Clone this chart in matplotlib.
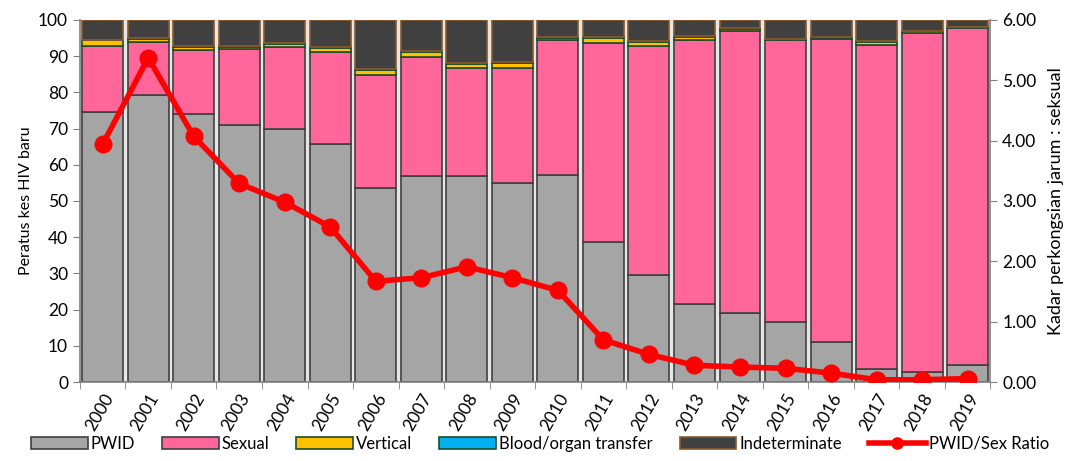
import matplotlib.pyplot as plt
import numpy as np
from matplotlib.lines import Line2D

plt.rcParams['font.family'] = ['Lato', 'DejaVu Sans']

years = [str(y) for y in range(2000, 2020)]
pwid = [74.5, 79.3, 74.0, 71.0, 69.8, 65.8, 53.6, 57.0, 57.0, 55.0,
        57.3, 38.6, 29.6, 21.5, 19.2, 16.7, 11.1, 3.5, 2.8, 4.7]
sexual = [18.3, 14.7, 17.7, 21.0, 22.7, 25.2, 31.3, 32.7, 29.6, 31.6,
          37.0, 54.9, 63.3, 73.0, 77.6, 77.6, 83.7, 89.6, 93.5, 93.0]
vertical = [1.5, 0.8, 0.8, 0.5, 0.8, 1.2, 1.2, 1.5, 1.2, 1.5,
            0.8, 1.5, 1.0, 0.8, 0.8, 0.3, 0.3, 0.8, 0.5, 0.3]
blood = [0.2, 0.1, 0.2, 0.2, 0.2, 0.2, 0.2, 0.2, 0.2, 0.2,
         0.2, 0.2, 0.2, 0.2, 0.2, 0.1, 0.1, 0.2, 0.1, 0.1]
indeterminate = list(100 - np.array(pwid) - np.array(sexual)
                     - np.array(vertical) - np.array(blood))
ratio = [3.94, 5.37, 4.07, 3.29, 2.98, 2.57, 1.67, 1.73, 1.91, 1.73,
         1.52, 0.70, 0.46, 0.28, 0.25, 0.23, 0.15, 0.04, 0.04, 0.06]

x = np.arange(len(years))

fig = plt.figure(figsize=(10.8, 4.61), dpi=100)
ax = fig.add_axes([0.074, 0.171, 0.843, 0.786])
ax.set_facecolor('white')

series = [
    ('PWID', pwid, '#a5a5a5', '#404040'),
    ('Sexual', sexual, '#ff6699', '#404040'),
    ('Vertical', vertical, '#ffc000', '#1e4d2b'),
    ('Blood/organ transfer', blood, '#00b0f0', '#1e4d2b'),
    ('Indeterminate', indeterminate, '#404040', '#8c5a2a'),
]
bottom = np.zeros(len(years))
handles = []
for name, vals, fc, ec in series:
    # pale strip between neighbouring bars
    ax.bar(x, vals, bottom=bottom, width=1.0, color='#e6e6e6',
           edgecolor='none', zorder=1)
    h = ax.bar(x, vals, bottom=bottom, width=0.9, color=fc,
               edgecolor=ec, linewidth=1.2, label=name, zorder=2)
    handles.append(h)
    bottom += np.array(vals)

ax.set_xlim(-0.5, len(years) - 0.5)
ax.set_ylim(0, 100)
ax.set_yticks(range(0, 101, 10))
ax.set_ylabel('Peratus kes HIV baru', fontsize=11.5)
ax.set_xticks(x)
ax.set_xticklabels(years, rotation=60, ha='right', rotation_mode='anchor',
                   fontsize=12.5)
ax.tick_params(axis='x', length=0, pad=6)
ax.set_xticks(np.arange(-0.5, len(years), 1), minor=True)
ax.tick_params(axis='x', which='minor', length=5, color='#808080')
ax.tick_params(axis='y', length=5, color='#808080', labelsize=12.5)
for s in ['top', 'right']:
    ax.spines[s].set_visible(False)
for s in ['left', 'bottom']:
    ax.spines[s].set_color('#808080')
    ax.spines[s].set_linewidth(1.2)

ax2 = ax.twinx()
line, = ax2.plot(x, ratio, color='#ff0000', linewidth=4, marker='o',
                 markersize=12, label='PWID/Sex Ratio', zorder=5)
ax2.set_ylim(0, 6)
ax2.set_yticks(np.arange(0, 6.01, 1))
ax2.set_yticklabels(['%.2f' % v for v in np.arange(0, 6.01, 1)])
ax2.tick_params(axis='y', length=5, color='#808080', labelsize=12.5)
ax2.set_ylabel('Kadar perkongsian jarum : seksual', fontsize=13, labelpad=8)
for s in ['top', 'left', 'bottom']:
    ax2.spines[s].set_visible(False)
ax2.spines['right'].set_color('#808080')
ax2.spines['right'].set_linewidth(1.2)

line_handle = Line2D([], [], color='#ff0000', linewidth=4, marker='o',
                     markersize=8)
fig.legend(handles + [line_handle],
           [h.get_label() for h in handles] + ['PWID/Sex Ratio'],
           loc='lower center', bbox_to_anchor=(0.5, -0.012), ncol=6,
           frameon=False, fontsize=12, handlelength=3.4, handletextpad=0.2,
           columnspacing=1.6)

fig.savefig('out.png', dpi=100)
